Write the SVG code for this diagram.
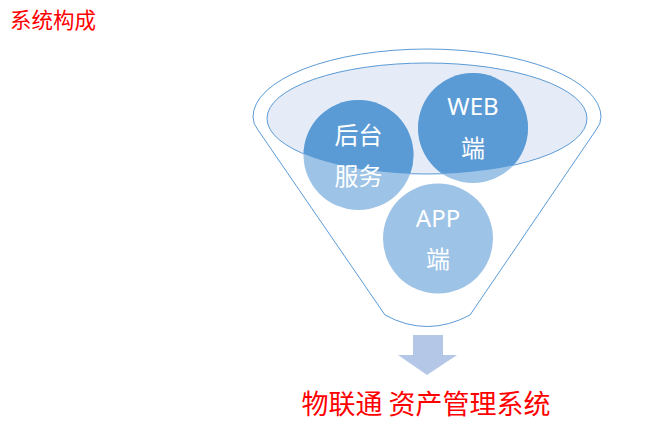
<svg xmlns="http://www.w3.org/2000/svg" width="650" height="445" viewBox="0 0 650 445">
<style>
.lbl{font-family:"Noto Sans","Noto Sans CJK SC",sans-serif;font-size:24px;fill:#fff;text-anchor:middle}
.red{font-family:"Noto Sans CJK SC",sans-serif;fill:#ff0000}
.ln{fill:none;stroke:#5B9BD5;stroke-width:1}
</style>
<defs>
<clipPath id="inner"><ellipse cx="427" cy="118.5" rx="160" ry="55.5"/></clipPath>
</defs>
<rect width="650" height="445" fill="#fff"/>
<text class="red" x="10" y="28" font-size="21.5">系统构成</text>
<g id="funnel">
<path class="ln" d="M258,130 Q253,124 253,117 A174,68 0 0 1 601,117 Q601,124 596,130 L470,315 Q427,338 385,315 Z"/>
<ellipse cx="427" cy="118.5" rx="160" ry="55.5" fill="#E6ECF7" stroke="#5B9BD5" stroke-width="1"/>
</g>
<g id="backend">
<circle cx="358.5" cy="155" r="55" fill="#9DC3E6"/>
<circle cx="358.5" cy="155" r="55" fill="#5B9BD5" clip-path="url(#inner)"/>
<text class="lbl" x="358.5" y="144" font-size="25">后台</text>
<text class="lbl" x="358.5" y="185" font-size="25">服务</text>
</g>
<g id="web">
<circle cx="473" cy="128" r="55" fill="#9DC3E6"/>
<circle cx="473" cy="128" r="55" fill="#5B9BD5" clip-path="url(#inner)"/>
<text class="lbl" x="473" y="115">WEB</text>
<text class="lbl" x="473" y="157">端</text>
</g>
<g id="app">
<circle cx="438" cy="238.5" r="55" fill="#9DC3E6"/>
<text class="lbl" x="438" y="227">APP</text>
<text class="lbl" x="438" y="268">端</text>
</g>
<g id="connectors">
<path d="M413,335 H443 V355 H457 L427,375 L398,355 H413 Z" fill="#B4C7E7"/>
</g>
<g id="result">
<text class="red" x="426" y="414" font-size="27" text-anchor="middle">物联通 资产管理系统</text>
</g>
</svg>
